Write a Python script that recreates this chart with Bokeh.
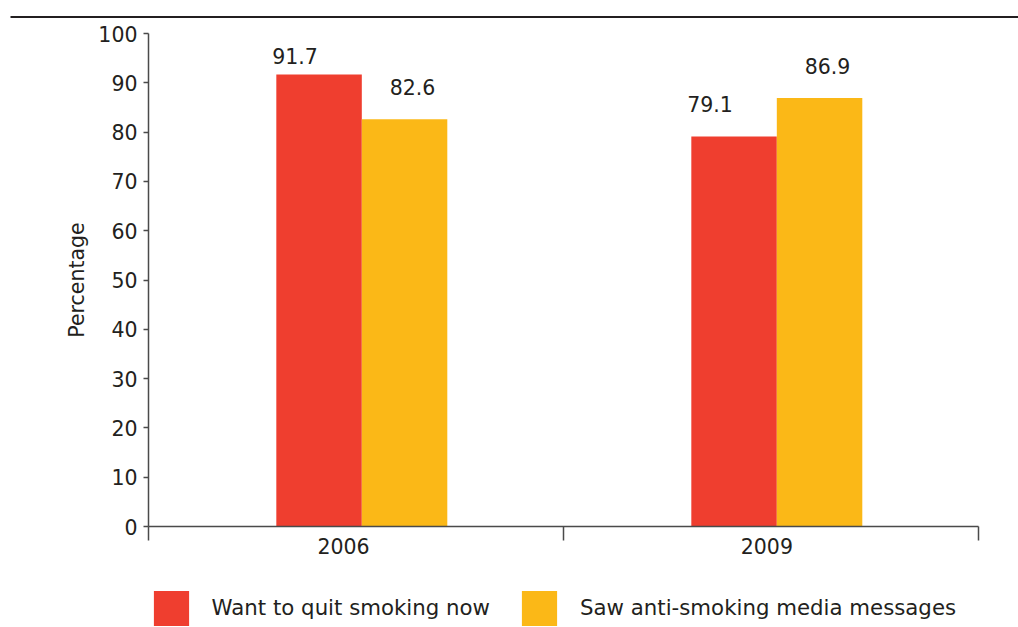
from bokeh.plotting import figure
from bokeh.models import (Range1d, FixedTicker, Legend, LegendItem, BoxAnnotation,
                          ColumnDataSource, LinearAxis)
from bokeh.transform import dodge
from bokeh.core.properties import value
from bokeh.embed import file_html
from bokeh.resources import INLINE

# Survey results by year
years = ["2006", "2009"]
want_quit = [91.7, 79.1]
saw_media = [82.6, 86.9]
series_names = ["Want to quit smoking now", "Saw anti-smoking media messages"]
y_ticks = [0, 10, 20, 30, 40, 50, 60, 70, 80, 90, 100]

RED = "#EF3E2F"
YELLOW = "#FBB817"
INK = "#231F20"
AXIS = "#4A4A4A"
FONT = "DejaVu Sans"
FS = "20.5px"
FS_LEGEND = "21.3px"

W, H = 1018, 627
# plot geometry in pixels: the bars area spans x 148..978 and y 33..526
X0_PX, X_SCALE = 148, 415.0      # px at category 0, px per category
Y0_PX, Y_SCALE = 526, 4.93       # px at 0 %, px per percentage point

idx = list(range(len(years)))
src = ColumnDataSource(dict(
    pos=[i + 0.5 for i in idx],
    want=want_quit,
    saw=saw_media,
    want_lbl=[f"{v:.1f}" for v in want_quit],
    saw_lbl=[f"{v:.1f}" for v in saw_media],
    want_ly=[min(v + 6.6, 95.4) for v in want_quit],
    saw_ly=[min(v + 6.6, 95.4) for v in saw_media],
))

p = figure(width=W, height=H, output_backend="svg", toolbar_location=None,
           x_range=Range1d(-X0_PX / X_SCALE, (W - X0_PX) / X_SCALE),
           y_range=Range1d(-(H - Y0_PX) / Y_SCALE, Y0_PX / Y_SCALE),
           min_border=0, x_axis_location=None, y_axis_location=None)
p.outline_line_color = None
p.background_fill_color = "white"
p.border_fill_color = "white"
p.grid.visible = False

BW = 0.206
OFF_WANT, OFF_SAW = -0.089, 0.117
r_want = p.vbar(x=dodge("pos", OFF_WANT, range=p.x_range), top="want", width=BW,
                source=src, fill_color=RED, line_color=None)
r_saw = p.vbar(x=dodge("pos", OFF_SAW, range=p.x_range), top="saw", width=BW,
               source=src, fill_color=YELLOW, line_color=None)

for col_lbl, col_y, off, dx in (("want_lbl", "want_ly", OFF_WANT, -24),
                                ("saw_lbl", "saw_ly", OFF_SAW, 8)):
    p.text(x=dodge("pos", off, range=p.x_range), y=col_y, text=col_lbl, source=src,
           x_offset=dx, text_align="center", text_baseline="middle",
           text_font=value(FONT), text_font_size=FS, text_color=INK)

# y axis, pinned at the left edge of the first category
ya = LinearAxis(fixed_location=0, bounds=(0, 100))
ya.ticker = FixedTicker(ticks=y_ticks, minor_ticks=[])
ya.axis_line_color = AXIS
ya.axis_line_width = 1.5
ya.major_tick_line_color = AXIS
ya.major_tick_line_width = 1.5
ya.major_tick_out = 5
ya.major_tick_in = 0
ya.major_label_standoff = 6
ya.major_label_text_font = FONT
ya.major_label_text_font_size = FS
ya.major_label_text_color = INK
ya.axis_label = "Percentage"
ya.axis_label_text_font = FONT
ya.axis_label_text_font_size = FS
ya.axis_label_text_font_style = "normal"
ya.axis_label_text_color = INK
ya.axis_label_standoff = 6
p.add_layout(ya, "left")

# x axis at 0 %: year labels, with category boundaries as downward ticks
xa = LinearAxis(fixed_location=0, bounds=(0, len(years)))
label_pos = [i + 0.47 if i == 0 else i + 0.49 for i in idx]
xa.ticker = FixedTicker(ticks=label_pos, minor_ticks=list(range(len(years) + 1)))
xa.major_label_overrides = {lp: y for lp, y in zip(label_pos, years)}
xa.axis_line_color = AXIS
xa.axis_line_width = 1.5
xa.major_tick_line_color = None
xa.major_tick_out = 0
xa.major_tick_in = 0
xa.minor_tick_line_color = AXIS
xa.minor_tick_line_width = 1.5
xa.minor_tick_out = 14
xa.minor_tick_in = 0
xa.major_label_standoff = -3
xa.major_label_text_font = FONT
xa.major_label_text_font_size = FS
xa.major_label_text_color = INK
p.add_layout(xa, "below")

# rule across the top of the chart
p.add_layout(BoxAnnotation(left=10, right=W, top=15.5, bottom=17.5,
                           left_units="canvas", right_units="canvas",
                           top_units="canvas", bottom_units="canvas",
                           fill_color=INK, fill_alpha=1.0, line_color=None))

legend = Legend(items=[LegendItem(label=series_names[0], renderers=[r_want]),
                       LegendItem(label=series_names[1], renderers=[r_saw])],
                orientation="horizontal", location=(148.6, -2.5),
                glyph_width=44, glyph_height=44, label_standoff=19, spacing=27,
                padding=0, margin=0, border_line_color=None,
                background_fill_alpha=0,
                label_text_font=FONT, label_text_font_size=FS_LEGEND,
                label_text_color=INK)
p.add_layout(legend, "center")

open("out.html", "w").write(file_html(p, INLINE))
